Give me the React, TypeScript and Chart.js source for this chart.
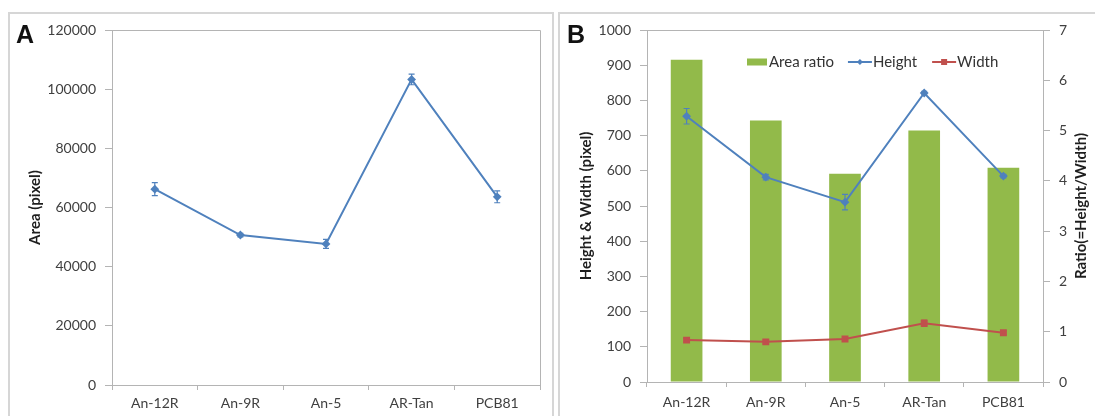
import React, { useEffect, useRef } from "react";
import { Chart, registerables } from "chart.js";

Chart.register(...registerables);

// ---------- data ----------
const categories = ["An-12R", "An-9R", "An-5", "AR-Tan", "PCB81"];

const areaValues = [66200, 50700, 47700, 103300, 63600];
const areaErrors = [2200, 600, 1500, 1800, 2000];

const heightValues = [755, 582, 511, 821, 585];
const heightErrors = [22, 8, 22, 5, 5];
const widthValues = [119, 114, 122, 167, 140];
const widthErrors = [5, 5, 5, 9, 5];
const areaRatioValues = [6.41, 5.2, 4.14, 5.0, 4.26];

const areaAxis = { min: 0, max: 120000, step: 20000 };
const hwAxis = { min: 0, max: 1000, step: 100 };
const ratioAxis = { min: 0, max: 7, step: 1 };

// ---------- styles ----------
const FONT = "Lato, 'Open Sans', sans-serif";
const BLUE = "#4f81bd";
const RED = "#c0504d";
const GREEN = "#92ba4a";
const AXIS = "#b4b4b4";
const TICK_COLOR = "#404040";
const TITLE_COLOR = "#1e1e1e";

function errorBars(specs: { datasetIndex: number; errors: number[]; color: string }[]) {
  return {
    id: "errorBars",
    afterDatasetsDraw(chart: any) {
      const ctx = chart.ctx;
      specs.forEach(({ datasetIndex, errors, color }) => {
        const meta = chart.getDatasetMeta(datasetIndex);
        const ds = chart.data.datasets[datasetIndex];
        const yScale = chart.scales[meta.yAxisID];
        ctx.save();
        ctx.strokeStyle = color;
        ctx.lineWidth = 1.2;
        meta.data.forEach((pt: any, i: number) => {
          const v = ds.data[i] as number;
          const e = errors[i];
          const x = pt.x;
          const yTop = yScale.getPixelForValue(v + e);
          const yBot = yScale.getPixelForValue(v - e);
          ctx.beginPath();
          ctx.moveTo(x, yTop);
          ctx.lineTo(x, yBot);
          ctx.moveTo(x - 3, yTop);
          ctx.lineTo(x + 3, yTop);
          ctx.moveTo(x - 3, yBot);
          ctx.lineTo(x + 3, yBot);
          ctx.stroke();
        });
        ctx.restore();
      });
    },
  };
}

const plotBorder = {
  id: "plotBorder",
  beforeDatasetsDraw(chart: any) {
    const { ctx, chartArea } = chart;
    const { left, top, right, bottom } = chartArea;
    ctx.save();
    ctx.strokeStyle = AXIS;
    ctx.lineWidth = 1;
    ctx.beginPath();
    ctx.moveTo(Math.round(left) + 0.5, Math.round(top) + 0.5);
    ctx.lineTo(Math.round(right) + 0.5, Math.round(top) + 0.5);
    ctx.lineTo(Math.round(right) + 0.5, Math.round(bottom) + 0.5);
    ctx.stroke();
    ctx.restore();
  },
};

const rightTitle = {
  id: "rightTitle",
  afterDraw(chart: any) {
    const { ctx, chartArea } = chart;
    ctx.save();
    ctx.font = `bold 15px ${FONT}`;
    ctx.fillStyle = TITLE_COLOR;
    ctx.textAlign = "center";
    ctx.textBaseline = "middle";
    ctx.translate(chart.width - 14, (chartArea.top + chartArea.bottom) / 2);
    ctx.rotate(-Math.PI / 2);
    ctx.fillText("Ratio(=Height/Width)", 0, 0);
    ctx.restore();
  },
};

const customLegend = {
  id: "customLegend",
  afterDraw(chart: any) {
    const { ctx, chartArea } = chart;
    const ds = chart.data.datasets;
    const bar = ds.find((d: any) => d.type === "bar");
    const lines = ds.filter((d: any) => d.type === "line");
    const y = chartArea.top + 32;
    let x = chartArea.left + 100;
    ctx.save();
    ctx.font = `15px ${FONT}`;
    ctx.textBaseline = "middle";
    ctx.textAlign = "left";
    ctx.fillStyle = bar.backgroundColor;
    ctx.fillRect(x, y - 3.5, 20, 7);
    x += 22;
    ctx.fillStyle = "#333";
    ctx.fillText(bar.label, x, y);
    x += ctx.measureText(bar.label).width + 14;
    lines.forEach((l: any) => {
      ctx.strokeStyle = l.borderColor;
      ctx.lineWidth = 2;
      ctx.beginPath();
      ctx.moveTo(x, y);
      ctx.lineTo(x + 24, y);
      ctx.stroke();
      ctx.fillStyle = l.borderColor;
      const cx = x + 12;
      if (l.pointStyle === "rect") {
        ctx.fillRect(cx - 3, y - 3, 6, 6);
      } else {
        ctx.beginPath();
        ctx.moveTo(cx, y - 3);
        ctx.lineTo(cx + 3, y);
        ctx.lineTo(cx, y + 3);
        ctx.lineTo(cx - 3, y);
        ctx.closePath();
        ctx.fill();
      }
      x += 25;
      ctx.fillStyle = "#333";
      ctx.fillText(l.label, x, y);
      x += ctx.measureText(l.label).width + 15;
    });
    ctx.restore();
  },
};

const tickFont = { family: FONT, size: 14 };
const titleFont = { family: FONT, size: 15, weight: "bold" as const };

function xScale(height: number, pad: number) {
  return {
    type: "category" as const,
    offset: true,
    grid: { display: true, drawOnChartArea: false, drawTicks: true, tickLength: 5, color: AXIS, offset: true },
    border: { display: true, color: AXIS },
    ticks: { font: tickFont, color: TICK_COLOR, padding: pad, maxRotation: 0 },
    afterFit(s: any) {
      s.height = height;
    },
  };
}

function yScale(
  axis: { min: number; max: number; step: number },
  position: "left" | "right",
  width: number,
  title?: { text: string; pad: number }
) {
  return {
    type: "linear" as const,
    position,
    min: axis.min,
    max: axis.max,
    grid: { display: true, drawOnChartArea: false, drawTicks: true, tickLength: 7, color: AXIS },
    border: { display: true, color: AXIS },
    ticks: {
      stepSize: axis.step,
      font: tickFont,
      color: TICK_COLOR,
      padding: 9,
      callback: (v: any) => String(v),
    },
    title: title
      ? { display: true, text: title.text, font: titleFont, color: TITLE_COLOR, padding: { top: title.pad, bottom: 0 } }
      : { display: false },
    afterFit(s: any) {
      s.width = width;
    },
  };
}

function PanelA() {
  const ref = useRef<HTMLCanvasElement>(null);
  useEffect(() => {
    const chart = new Chart(ref.current!, {
      type: "line",
      data: {
        labels: categories,
        datasets: [
          {
            label: "Area",
            data: areaValues,
            borderColor: BLUE,
            backgroundColor: BLUE,
            borderWidth: 2,
            pointStyle: "rectRot",
            pointRadius: 3,
            tension: 0,
          },
        ],
      },
      options: {
        responsive: false,
        animation: false,
        layout: { padding: { top: 30, right: 13, bottom: 0, left: 0 } },
        plugins: { legend: { display: false }, tooltip: { enabled: false } },
        scales: {
          x: xScale(31, 5),
          y: yScale(areaAxis, "left", 112, { text: "Area (pixel)", pad: 26 }),
        },
      },
      plugins: [plotBorder, errorBars([{ datasetIndex: 0, errors: areaErrors, color: BLUE }])],
    });
    return () => chart.destroy();
  }, []);
  return (
    <canvas
      ref={ref}
      width={553}
      height={416}
      style={{ position: "absolute", left: 0, top: 0, width: 553, height: 416 }}
    />
  );
}

function PanelB() {
  const ref = useRef<HTMLCanvasElement>(null);
  useEffect(() => {
    const chart = new Chart(ref.current!, {
      type: "bar",
      data: {
        labels: categories,
        datasets: [
          {
            type: "line",
            label: "Height",
            data: heightValues,
            yAxisID: "y",
            borderColor: BLUE,
            backgroundColor: BLUE,
            borderWidth: 2,
            pointStyle: "rectRot",
            pointRadius: 3,
            order: 1,
          } as any,
          {
            type: "line",
            label: "Width",
            data: widthValues,
            yAxisID: "y",
            borderColor: RED,
            backgroundColor: RED,
            borderWidth: 2,
            pointStyle: "rect",
            pointRadius: 3.5,
            order: 0,
          } as any,
          {
            type: "bar",
            label: "Area ratio",
            data: areaRatioValues,
            yAxisID: "y2",
            backgroundColor: GREEN,
            barPercentage: 0.4,
            categoryPercentage: 1,
            order: 2,
          } as any,
        ],
      },
      options: {
        responsive: false,
        animation: false,
        layout: { padding: { top: 30, right: 0, bottom: 0, left: 0 } },
        plugins: { legend: { display: false }, tooltip: { enabled: false } },
        scales: {
          x: xScale(34, 7),
          y: yScale(hwAxis, "left", 92, { text: "Height & Width (pixel)", pad: 22 }),
          y2: yScale(ratioAxis, "right", 52),
        },
      },
      plugins: [
        plotBorder,
        errorBars([
          { datasetIndex: 0, errors: heightErrors, color: BLUE },
          { datasetIndex: 1, errors: widthErrors, color: RED },
        ]),
        customLegend,
        rightTitle,
      ],
    });
    return () => chart.destroy();
  }, []);
  return (
    <canvas
      ref={ref}
      width={540}
      height={416}
      style={{ position: "absolute", left: 555, top: 0, width: 540, height: 416 }}
    />
  );
}

export default function App() {
  const panelLabel: React.CSSProperties = {
    position: "absolute",
    fontFamily: "'Liberation Sans', Arial, sans-serif",
    fontWeight: "bold",
    fontSize: 25,
    lineHeight: "25px",
    color: "#111",
  };
  return (
    <div
      style={{
        position: "absolute",
        left: 0,
        top: 0,
        width: 1095,
        height: 416,
        overflow: "hidden",
        background: "#fff",
      }}
    >
      <div
        style={{
          position: "absolute",
          left: 8,
          top: 12,
          width: 542,
          height: 420,
          borderLeft: "2px solid #d6d6d6",
          borderTop: "2px solid #d6d6d6",
          borderRight: "2px solid #d6d6d6",
        }}
      />
      <div
        style={{
          position: "absolute",
          left: 558,
          top: 12,
          width: 560,
          height: 420,
          borderLeft: "2px solid #d6d6d6",
          borderTop: "2px solid #d6d6d6",
        }}
      />
      <PanelA />
      <PanelB />
      <div style={{ ...panelLabel, left: 16, top: 22 }}>A</div>
      <div style={{ ...panelLabel, left: 567, top: 22 }}>B</div>
    </div>
  );
}
